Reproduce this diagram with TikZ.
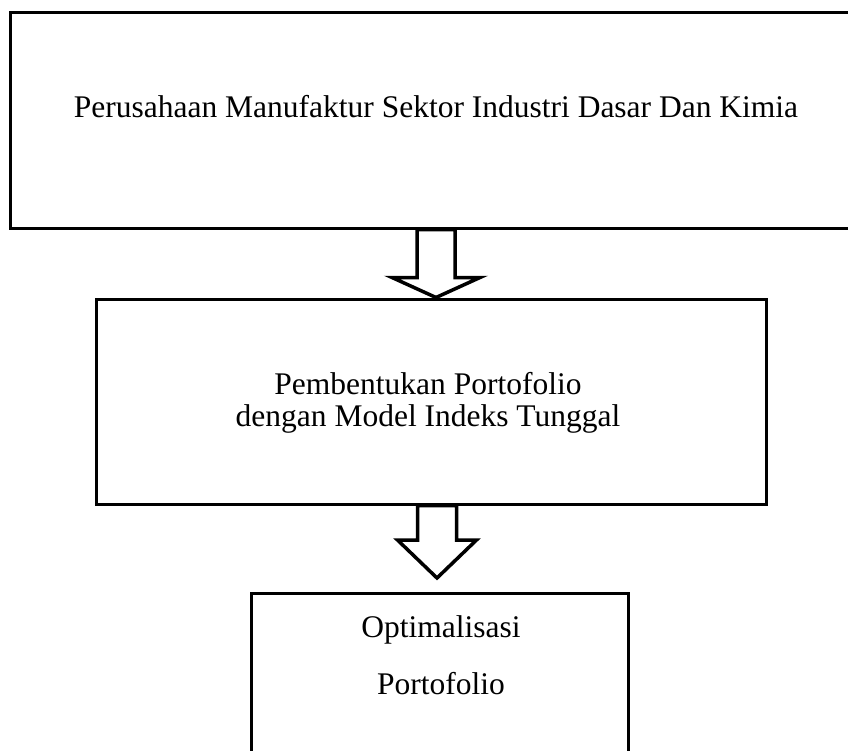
\documentclass[tikz,border=0pt]{standalone}
\usepackage{fontspec}
\setmainfont{Liberation Serif}
\usetikzlibrary{calc}
% block arrow pointing down: #1 top, #2 tip, #3 shaft half, #4 head half, #5 head length
\newcommand{\blockarrow}[5]{%
	\draw[panah] ($(#2 |- #1)+(-#3,0)$) -- ($(#2)+(-#3,-#5)$) -- ($(#2)+(-#4,-#5)$) -- (#2)
	-- ($(#2)+(#4,-#5)$) -- ($(#2)+(#3,-#5)$) -- ($(#2 |- #1)+(#3,0)$) -- cycle;}
\begin{document}
\begin{tikzpicture}[x=1pt, y=-1pt, line join=miter,
		font=\fontsize{31.5}{34}\selectfont,
		kotak/.style 2 args={draw, line width=3pt, inner sep=0pt, minimum width=#1, minimum height=#2},
		panah/.style={draw, fill=white, line width=3.5pt},
		teks/.style={anchor=base, inner sep=0pt}]
	\useasboundingbox (0,0) rectangle (848,750);
	\clip (0,0) rectangle (848,750);
	% kotak
	\node[kotak={852pt}{216pt}] (b1) at (436,120) {};
	\node[kotak={670pt}{205pt}] (b2) at (431,401.5) {};
	\node[kotak={377pt}{200pt}] (b3) at (439.5,693) {};
	% teks
	\node[teks] (t1) at (436,117) {Perusahaan Manufaktur Sektor Industri Dasar Dan Kimia};
	\node[teks] (t2a) at (428,394) {Pembentukan Portofolio};
	\node[teks] (t2b) at (428,426) {dengan Model Indeks Tunggal};
	\node[teks] (t3a) at (441,637) {Optimalisasi};
	\node[teks] (t3b) at (441,694) {Portofolio};
	% panah
	\coordinate (a1) at (b1.south |- b2.north);
	\coordinate (a2) at (437,578);
	\blockarrow{b1.south}{a1}{19}{44}{20}
	\blockarrow{b2.south}{a2}{19.5}{39.5}{38}
\end{tikzpicture}
\end{document}
